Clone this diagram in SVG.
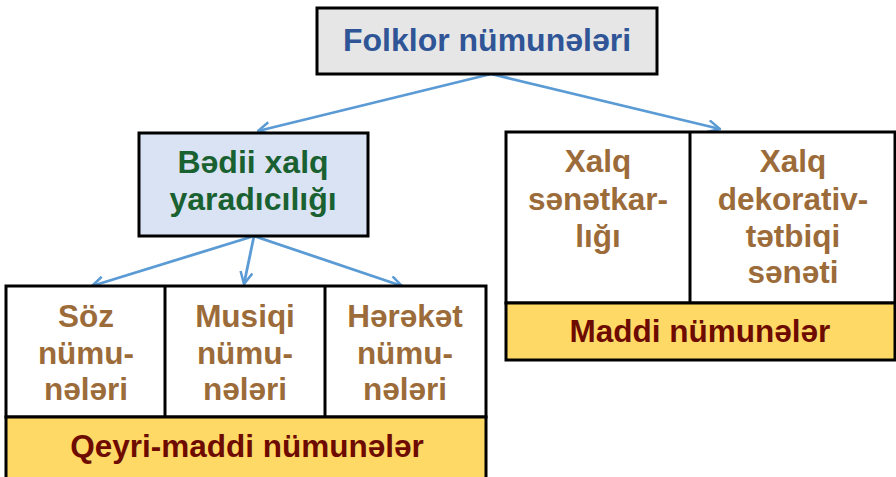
<svg xmlns="http://www.w3.org/2000/svg" width="896" height="477" viewBox="0 0 896 477">
<defs>
<marker id="ah" viewBox="0 0 14 14" refX="13" refY="7" markerWidth="14" markerHeight="14" markerUnits="userSpaceOnUse" orient="auto">
<path d="M1,1 L13,7 L1,13" fill="none" stroke="#5b9bd5" stroke-width="2.5"/>
</marker>
<style>
.box{stroke:#000;stroke-width:3}
.t{font-family:"Liberation Sans",Arial,sans-serif;font-weight:bold;font-size:31.5px;text-anchor:middle}
.h{font-size:32px}
.br{fill:#9c6b3a}
.dr{fill:#6e0b00}
.cn{stroke:#5b9bd5;stroke-width:2.8;fill:none;marker-end:url(#ah)}
</style>
</defs>
<rect width="896" height="477" fill="#fff"/>
<g id="connectors">
<line class="cn" x1="491" y1="74" x2="258" y2="131"/>
<line class="cn" x1="491" y1="74" x2="720" y2="129"/>
<line class="cn" x1="254" y1="236" x2="92" y2="286"/>
<line class="cn" x1="254" y1="236" x2="244" y2="284"/>
<line class="cn" x1="254" y1="236" x2="402" y2="286"/>
</g>
<g id="folklor">
<rect class="box" x="317" y="8" width="340" height="66" fill="#e6e6e6"/>
<text class="t h" x="487" y="51" fill="#2f5597">Folklor nümunələri</text>
</g>
<g id="bedii">
<rect class="box" x="139" y="133" width="229" height="103" fill="#dae3f3"/>
<text class="t h" x="253" y="173" fill="#1a6131">Bədii xalq</text>
<text class="t h" x="253" y="210" fill="#1a6131">yaradıcılığı</text>
</g>
<g id="qeyri">
<rect class="box" x="6" y="286" width="480" height="131" fill="#fff"/>
<line class="box" x1="165" y1="286" x2="165" y2="417"/>
<line class="box" x1="325" y1="286" x2="325" y2="417"/>
<rect class="box" x="6" y="417" width="480" height="62" fill="#ffd966"/>
<text class="t dr" x="247" y="457">Qeyri-maddi nümunələr</text>
</g>
<g id="soz">
<text class="t br" x="86" y="327">Söz</text>
<text class="t br" x="86" y="364">nümu-</text>
<text class="t br" x="86" y="400">nələri</text>
</g>
<g id="musiqi">
<text class="t br" x="245" y="327">Musiqi</text>
<text class="t br" x="245" y="364">nümu-</text>
<text class="t br" x="245" y="400">nələri</text>
</g>
<g id="hereket">
<text class="t br" x="405" y="327">Hərəkət</text>
<text class="t br" x="405" y="364">nümu-</text>
<text class="t br" x="405" y="400">nələri</text>
</g>
<g id="maddi">
<rect class="box" x="506" y="132" width="389" height="171" fill="#fff"/>
<line class="box" x1="690" y1="132" x2="690" y2="303"/>
<rect class="box" x="506" y="303" width="389" height="57" fill="#ffd966"/>
<text class="t dr" x="700" y="342">Maddi nümunələr</text>
</g>
<g id="senetkar">
<text class="t br" x="598" y="172">Xalq</text>
<text class="t br" x="598" y="210">sənətkar-</text>
<text class="t br" x="598" y="247">lığı</text>
</g>
<g id="dekorativ">
<text class="t br" x="793" y="172">Xalq</text>
<text class="t br" x="793" y="210">dekorativ-</text>
<text class="t br" x="793" y="247">tətbiqi</text>
<text class="t br" x="793" y="283">sənəti</text>
</g>
</svg>
